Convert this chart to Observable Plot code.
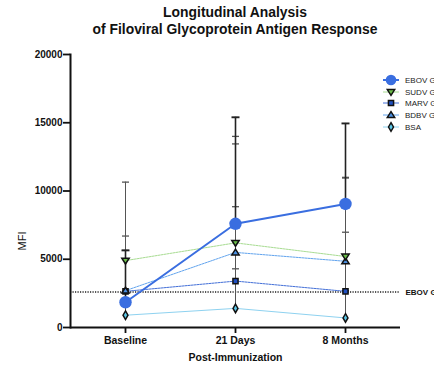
<!DOCTYPE html>
<html>
<head>
<meta charset="utf-8">
<script src="https://cdn.jsdelivr.net/npm/d3@7"></script>
<script src="https://cdn.jsdelivr.net/npm/@observablehq/plot@0.6"></script>
<style>
  html, body { margin: 0; padding: 0; background: #fff; }
  #wrap { position: relative; width: 434px; height: 368px; overflow: hidden; font-family: "Liberation Sans", Arial, sans-serif; }
  #title { position: absolute; left: 70px; width: 330px; top: 4px; text-align: center; font-weight: bold; font-size: 13.9px; line-height: 17px; color: #111; }
  #chart { position: absolute; left: 0; top: 40px; }
  #ylab { position: absolute; left: 22px; top: 241px; transform: translate(-50%, -50%) rotate(-90deg); font-size: 11px; color: #111; white-space: nowrap; }
  #legend { position: absolute; left: 0; top: 0; pointer-events: none; }
</style>
</head>
<body>
<div id="wrap">
  <div id="title">Longitudinal Analysis<br>of Filoviral Glycoprotein Antigen Response</div>
  <div id="chart"></div>
  <div id="ylab">MFI</div>
  <svg id="legend" width="434" height="368"></svg>
</div>
<script>
const timepoints = ["Baseline", "21 Days", "8 Months"];
const seriesNames = ["EBOV GP", "SUDV GP", "MARV GP", "BDBV GP", "BSA"];
const ebovMFI = [1850, 7600, 9050];
const sudvMFI = [4900, 6200, 5200];
const marvMFI = [2650, 3400, 2650];
const bdbvMFI = [2700, 5500, 4850];
const bsaMFI  = [900, 1400, 700];
const ebovSD = [3800, 7800, 5900];
const sudvSD = [5750, 7800, 5800];
const marvSD = [4050, 5450, 4330];
const bdbvSD = [2950, 7950, 6100];
const bsaSD  = [1100, 2900, 2000];
const cutoffMFI = 2600;
const cutoffLabel = "EBOV GP Cutoff";
const yTicks = [0, 5000, 10000, 15000, 20000];
const xTitle = "Post-Immunization";

const means = [ebovMFI, sudvMFI, marvMFI, bdbvMFI, bsaMFI];
const sds = [ebovSD, sudvSD, marvSD, bdbvSD, bsaSD];

const triDown = {draw(ctx, size) { const r = Math.sqrt(size / 3); ctx.moveTo(0, r * 1.1); ctx.lineTo(-r * 1.2, -r * 0.8); ctx.lineTo(r * 1.2, -r * 0.8); ctx.closePath(); }};
const triUp = {draw(ctx, size) { const r = Math.sqrt(size / 3); ctx.moveTo(0, -r * 1.1); ctx.lineTo(-r * 1.2, r * 0.8); ctx.lineTo(r * 1.2, r * 0.8); ctx.closePath(); }};
const capSym = {draw(ctx, size) { const w = Math.sqrt(size / Math.PI); ctx.moveTo(-w, 0); ctx.lineTo(w, 0); }};

const styles = [
  {line: "#3a6ee0", lw: 2, dash: null, symbol: "circle", r: 6.2, fill: "#3a6ee0", stroke: "none", sw: 0, bar: "#222", bw: 1.6, cap: 4, lr: 5.3},
  {line: "#a8dc92", lw: 1, dash: "2,1", symbol: triDown, r: 3, fill: "#6cc04a", stroke: "#111", sw: 1.5, bar: "#555", bw: 1, cap: 3.5, lr: 3},
  {line: "#4470d8", lw: 1, dash: "2,1", symbol: "square", r: 2.9, fill: "#1f4fc0", stroke: "#111", sw: 1.5, bar: "#555", bw: 1, cap: 3.5, lr: 2.9},
  {line: "#62a4ee", lw: 1, dash: "2,1", symbol: triUp, r: 3, fill: "#4a8fe0", stroke: "#111", sw: 1.5, bar: "#555", bw: 1, cap: 3.5, lr: 3},
  {line: "#8ed2f0", lw: 1, dash: null, symbol: "diamond", r: 2.6, fill: "#5cc8e8", stroke: "#111", sw: 1.5, bar: "#555", bw: 1, cap: 3.5, lr: 2.6}
];

const rows = seriesNames.flatMap((s, si) => timepoints.map((t, ti) => ({series: s, si, time: t, mfi: means[si][ti], sd: sds[si][ti]})));
const bySeries = seriesNames.map((s, si) => rows.filter(d => d.si === si));

const order = [4, 2, 3, 1, 0];
const lineMarks = order.map(si => Plot.line(bySeries[si], {x: "time", y: "mfi", stroke: styles[si].line, strokeWidth: styles[si].lw, strokeDasharray: styles[si].dash}));
const barMarks = order.flatMap(si => [
  Plot.ruleX(bySeries[si], {x: "time", y1: "mfi", y2: d => d.mfi + d.sd, stroke: styles[si].bar, strokeWidth: styles[si].bw}),
  Plot.dot(bySeries[si], {x: "time", y: d => d.mfi + d.sd, symbol: () => capSym, r: styles[si].cap, fill: "none", stroke: styles[si].bar, strokeWidth: styles[si].bw + 0.3})
]);
const dotMarks = order.map(si => Plot.dot(bySeries[si], {x: "time", y: "mfi", symbol: () => styles[si].symbol, r: styles[si].r, fill: styles[si].fill, stroke: styles[si].stroke, strokeWidth: styles[si].sw, fillOpacity: 1}));

const chart = Plot.plot({
  width: 434,
  height: 328,
  marginLeft: 70,
  marginRight: 34,
  marginTop: 14,
  marginBottom: 41,
  style: {fontFamily: "Liberation Sans, Arial, sans-serif", fontSize: "10px", color: "#111", background: "transparent"},
  x: {type: "point", domain: timepoints, padding: 0.5},
  y: {domain: [0, 20000]},
  symbol: {type: "identity"},
  marks: [
    Plot.ruleY([cutoffMFI], {stroke: "#222", strokeWidth: 1.3, strokeDasharray: "1.2,1.3"}),
    Plot.text([cutoffMFI], {y: d => d, text: () => cutoffLabel, frameAnchor: "right", textAnchor: "start", dx: 5, fontWeight: "bold", fontSize: 8, fill: "#111"}),
    ...lineMarks,
    ...barMarks,
    ...dotMarks,
    Plot.axisY({ticks: yTicks, tickFormat: d3.format("d"), tickSize: 7, tickPadding: 1, label: null, fontWeight: "bold", fontSize: 10, strokeWidth: 1.8}),
    Plot.axisX({tickSize: 6, tickPadding: 3, label: xTitle, labelAnchor: "center", labelOffset: 33, fontWeight: "bold", fontSize: 10.5, strokeWidth: 1.8}),
    Plot.frame({anchor: "left", stroke: "#111", strokeWidth: 2}),
    Plot.ruleY([0], {stroke: "#111", strokeWidth: 2})
  ]
});
document.getElementById("chart").appendChild(chart);

// legend
const lg = d3.select("#legend");
const ly = [80, 92, 103, 115, 127];
seriesNames.forEach((name, si) => {
  const st = styles[si];
  const g = lg.append("g").attr("transform", `translate(0,${ly[si]})`);
  g.append("line").attr("x1", 383).attr("x2", 399).attr("y1", 0).attr("y2", 0)
    .attr("stroke", st.line).attr("stroke-width", st.lw);
  const sym = typeof st.symbol === "string" ? {circle: d3.symbolCircle, square: d3.symbolSquare, diamond: d3.symbolDiamond}[st.symbol] : st.symbol;
  g.append("path").attr("transform", "translate(391,0)")
    .attr("d", d3.symbol(sym, Math.PI * st.lr * st.lr)())
    .attr("fill", st.fill).attr("stroke", st.stroke === "none" ? null : st.stroke).attr("stroke-width", st.sw);
  g.append("text").attr("x", 405).attr("y", 0).attr("dy", "0.35em")
    .attr("font-family", "Liberation Sans, Arial, sans-serif").attr("font-size", 8).attr("fill", "#222").text(name);
});
</script>
</body>
</html>
